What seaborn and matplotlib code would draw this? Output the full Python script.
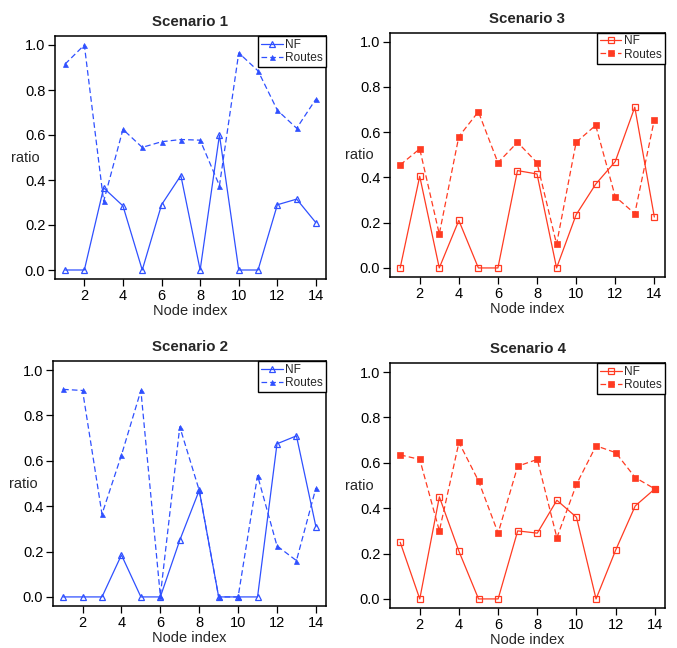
import numpy as np
import pandas as pd
import matplotlib
matplotlib.use("Agg")
import matplotlib.pyplot as plt
from matplotlib.legend_handler import HandlerLine2D
import seaborn as sns

node = list(range(1, 15))

s1_nf = [0.0, 0.0, 0.365, 0.285, 0.0, 0.29, 0.42, 0.0, 0.60, 0.0, 0.0, 0.29, 0.315, 0.21]
s1_routes = [0.915, 1.0, 0.305, 0.625, 0.545, 0.57, 0.58, 0.577, 0.375, 0.965, 0.885, 0.71, 0.63, 0.76]

s2_nf = [0.0, 0.0, 0.0, 0.185, 0.0, 0.0, 0.25, 0.47, 0.0, 0.0, 0.0, 0.675, 0.71, 0.31]
s2_routes = [0.915, 0.91, 0.365, 0.625, 0.91, 0.005, 0.75, 0.47, 0.0, 0.0, 0.535, 0.225, 0.16, 0.48]

s3_nf = [0.0, 0.405, 0.0, 0.21, 0.0, 0.0, 0.43, 0.415, 0.0, 0.235, 0.37, 0.47, 0.71, 0.225]
s3_routes = [0.455, 0.526, 0.15, 0.58, 0.69, 0.465, 0.555, 0.465, 0.105, 0.555, 0.63, 0.315, 0.24, 0.655]

s4_nf = [0.25, 0.0, 0.45, 0.21, 0.0, 0.0, 0.30, 0.29, 0.435, 0.36, 0.0, 0.215, 0.41, 0.485]
s4_routes = [0.635, 0.615, 0.30, 0.69, 0.52, 0.29, 0.585, 0.615, 0.27, 0.505, 0.675, 0.645, 0.535, 0.485]

titles = ["Scenario 1", "Scenario 3", "Scenario 2", "Scenario 4"]
series_labels = ["NF", "Routes"]
yticks = [0.0, 0.2, 0.4, 0.6, 0.8, 1.0]
xticks = [2, 4, 6, 8, 10, 12, 14]

sns.set_style("ticks")
plt.rcParams["font.family"] = ["Liberation Sans", "DejaVu Sans"]

BLUE = "#2f50ff"
RED = "#ff3b22"


class EndMarkerHandler(HandlerLine2D):
    def get_xdata(self, legend, xdescent, ydescent, width, height, fontsize):
        xdata, _ = super().get_xdata(legend, xdescent, ydescent, width, height, fontsize)
        return xdata, [-xdescent + width]


fig = plt.figure(figsize=(6.77, 6.48), dpi=100)
positions = [
    [55 / 677, (648 - 279) / 648, 271 / 677, 243 / 648],
    [390 / 677, (648 - 277) / 648, 274.5 / 677, 244.5 / 648],
    [53 / 677, (648 - 606) / 648, 273 / 677, 245 / 648],
    [390 / 677, (648 - 608) / 648, 275 / 677, 245 / 648],
]
data = [
    (s1_nf, s1_routes, BLUE, "^"),
    (s3_nf, s3_routes, RED, "s"),
    (s2_nf, s2_routes, BLUE, "^"),
    (s4_nf, s4_routes, RED, "s"),
]

for pos, title, (nf, routes, color, mk) in zip(positions, titles, data):
    ax = fig.add_axes(pos)
    df = pd.DataFrame({"node": node, "NF": nf, "Routes": routes})
    ms_open = 4.6 if mk == "^" else 3.8
    ms_fill = 3.6 if mk == "^" else 3.8
    sns.lineplot(data=df, x="node", y="NF", ax=ax, color=color, linewidth=0.9,
                 marker=mk, markersize=ms_open, markerfacecolor="none",
                 markeredgecolor=color, markeredgewidth=0.9, label=series_labels[0])
    sns.lineplot(data=df, x="node", y="Routes", ax=ax, color=color, linewidth=0.9,
                 linestyle=(0, (4.5, 2.5)), marker=mk, markersize=ms_fill,
                 markerfacecolor=color, markeredgecolor=color, markeredgewidth=0.5,
                 label=series_labels[1])
    ax.set_xlim(0.48, 14.52)
    ax.set_ylim(-0.04, 1.04)
    ax.set_xticks(xticks)
    ax.set_yticks(yticks)
    ax.set_yticklabels([f"{v:.1f}" for v in yticks])
    ax.tick_params(axis="both", direction="out", length=5, width=0.9, pad=2,
                   labelsize=10.5, colors="black")
    for sp in ax.spines.values():
        sp.set_visible(True)
        sp.set_linewidth(1.1)
        sp.set_color("black")
    ax.set_title(title, fontsize=10.8, fontweight="bold", pad=7)
    ax.set_xlabel("Node index", fontsize=10.5, labelpad=1)
    ax.set_ylabel("ratio", fontsize=10.5, rotation=0, ha="center", va="center")
    ax.yaxis.set_label_coords(-0.11, 0.5)
    leg = ax.legend(loc="upper right", borderaxespad=0, fontsize=8.6,
                    frameon=True, fancybox=False, shadow=False, framealpha=1,
                    edgecolor="black", handlelength=1.8, handletextpad=0.2,
                    labelspacing=0.1, borderpad=0.25,
                    handler_map={matplotlib.lines.Line2D: EndMarkerHandler(numpoints=1)})
    leg.get_frame().set_linewidth(1.0)

fig.savefig("out.png", dpi=100)
